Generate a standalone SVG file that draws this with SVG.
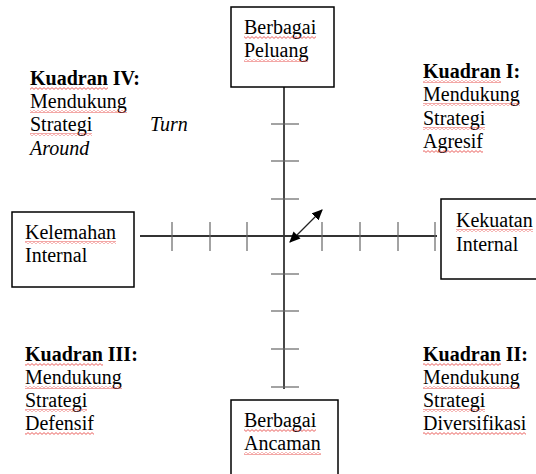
<svg xmlns="http://www.w3.org/2000/svg" width="536" height="474" viewBox="0 0 536 474">
<style>
.box{fill:#fff;stroke:#000;stroke-width:1.5}
text{font-family:'Liberation Serif',Tinos,'DejaVu Serif',serif;font-size:20px;fill:#000;font-weight:normal;font-style:normal}
text.b{font-weight:bold}
text.i{font-style:italic}
.axis{stroke:#333;stroke-width:1.8;fill:none}
.tick{stroke:#666;stroke-width:1.2}
.sq{fill:url(#wavy)}
</style>
<defs>
<pattern id="wavy" width="4" height="3" patternUnits="userSpaceOnUse">
<path d="M0 0.6 L2 2.4 L4 0.6" stroke="#e53935" stroke-width="0.8" fill="none"/>
</pattern>
<marker id="ah" viewBox="0 0 10 10" refX="9" refY="5" markerWidth="11" markerHeight="11" markerUnits="userSpaceOnUse" orient="auto-start-reverse">
<path d="M0 0.5 L10 5 L0 9.5 z" fill="#000"/>
</marker>
</defs>
<g id="connectors">
<line class="axis" x1="284" y1="87" x2="284" y2="389"/>
<line class="axis" x1="140" y1="236" x2="437" y2="236"/>
<g class="tick">
<line x1="271" y1="124" x2="299" y2="124"/>
<line x1="271" y1="161" x2="299" y2="161"/>
<line x1="271" y1="199" x2="299" y2="199"/>
<line x1="271" y1="274" x2="299" y2="274"/>
<line x1="271" y1="311" x2="299" y2="311"/>
<line x1="271" y1="349" x2="299" y2="349"/>
<line x1="271" y1="387" x2="299" y2="387"/>
<line x1="172" y1="222" x2="172" y2="251"/>
<line x1="210" y1="222" x2="210" y2="251"/>
<line x1="247" y1="222" x2="247" y2="251"/>
<line x1="322" y1="222" x2="322" y2="251"/>
<line x1="360" y1="222" x2="360" y2="251"/>
<line x1="398" y1="222" x2="398" y2="251"/>
<line x1="435" y1="222" x2="435" y2="251"/>
</g>
<line x1="290" y1="242" x2="322" y2="210" stroke="#222" stroke-width="1.2" marker-start="url(#ah)" marker-end="url(#ah)"/>
</g>
<g id="peluang">
<rect class="box" x="231" y="7" width="103" height="80"/>
<text x="244" y="34">Berbagai</text>
<text x="244" y="57">Peluang</text>
<rect class="sq" x="244" y="36" width="72" height="3"/>
<rect class="sq" x="244" y="59" width="64" height="3"/>
</g>
<g id="kelemahan">
<rect class="box" x="12" y="212" width="122" height="75"/>
<text x="25" y="239">Kelemahan</text>
<text x="25" y="262">Internal</text>
<rect class="sq" x="25" y="241" width="91" height="3"/>
</g>
<g id="kekuatan">
<rect class="box" x="441" y="199" width="100" height="80"/>
<text x="456" y="227">Kekuatan</text>
<text x="456" y="251">Internal</text>
<rect class="sq" x="456" y="229" width="77" height="3"/>
</g>
<g id="ancaman">
<rect class="box" x="231" y="400" width="107" height="80"/>
<text x="244" y="427">Berbagai</text>
<text x="244" y="450">Ancaman</text>
<rect class="sq" x="244" y="429" width="72" height="3"/>
<rect class="sq" x="244" y="452" width="77" height="3"/>
</g>
<g id="kuadran4">
<text class="b" x="30" y="85">Kuadran IV:</text>
<text x="30" y="108">Mendukung</text>
<text x="30" y="131">Strategi</text>
<text class="i" x="150" y="131">Turn</text>
<text class="i" x="30" y="155">Around</text>
<rect class="sq" x="30" y="87" width="78" height="3"/>
<rect class="sq" x="30" y="110" width="97" height="3"/>
<rect class="sq" x="30" y="133" width="62" height="3"/>
</g>
<g id="kuadran1">
<text class="b" x="423" y="78">Kuadran I:</text>
<text x="423" y="101">Mendukung</text>
<text x="423" y="125">Strategi</text>
<text x="423" y="148">Agresif</text>
<rect class="sq" x="423" y="80" width="78" height="3"/>
<rect class="sq" x="423" y="103" width="97" height="3"/>
<rect class="sq" x="423" y="127" width="62" height="3"/>
<rect class="sq" x="423" y="150" width="60" height="3"/>
</g>
<g id="kuadran3">
<text class="b" x="25" y="361">Kuadran III:</text>
<text x="25" y="384">Mendukung</text>
<text x="25" y="407">Strategi</text>
<text x="25" y="430">Defensif</text>
<rect class="sq" x="25" y="363" width="78" height="3"/>
<rect class="sq" x="25" y="386" width="97" height="3"/>
<rect class="sq" x="25" y="409" width="62" height="3"/>
<rect class="sq" x="25" y="432" width="69" height="3"/>
</g>
<g id="kuadran2">
<text class="b" x="423" y="361">Kuadran II:</text>
<text x="423" y="384">Mendukung</text>
<text x="423" y="407">Strategi</text>
<text x="423" y="430">Diversifikasi</text>
<rect class="sq" x="423" y="363" width="78" height="3"/>
<rect class="sq" x="423" y="386" width="97" height="3"/>
<rect class="sq" x="423" y="409" width="62" height="3"/>
<rect class="sq" x="423" y="432" width="103" height="3"/>
</g>
</svg>
